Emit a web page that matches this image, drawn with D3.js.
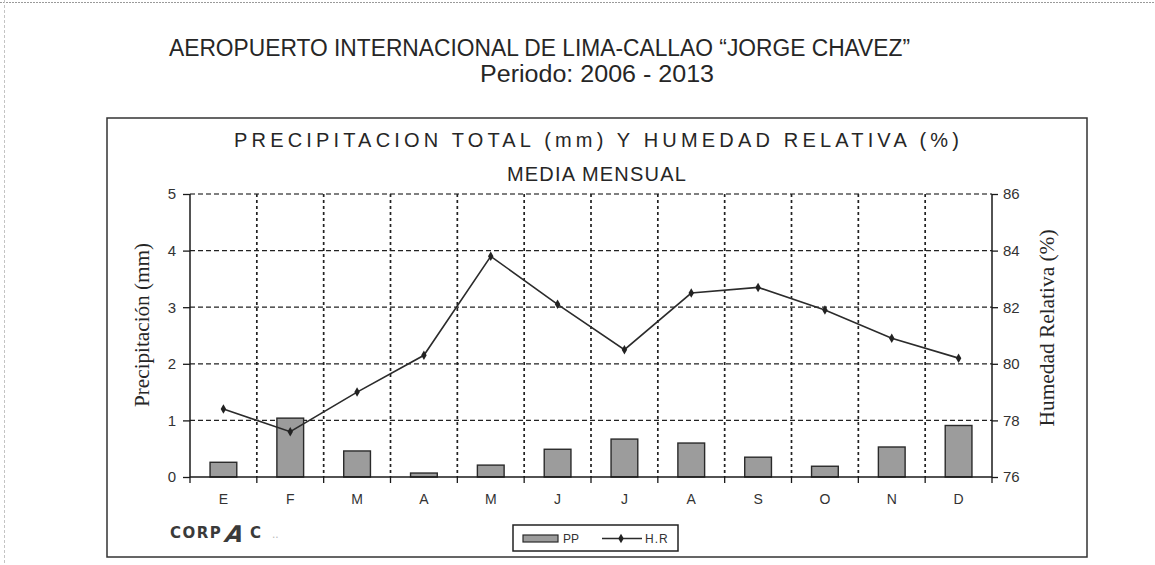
<!DOCTYPE html>
<html>
<head>
<meta charset="utf-8">
<script src="https://cdn.jsdelivr.net/npm/d3@7"></script>
<style>
  html, body { margin: 0; padding: 0; background: #fff; }
  svg { display: block; }
</style>
</head>
<body>
<svg id="chart" width="1155" height="565"></svg>
<script>
// ---- data ----
const months = ["E","F","M","A","M ","J","J ","A ","S","O","N","D"];
const monthLabels = ["E","F","M","A","M","J","J","A","S","O","N","D"];
const ppValues = [0.26, 1.04, 0.46, 0.07, 0.21, 0.49, 0.67, 0.60, 0.35, 0.19, 0.53, 0.91];
const hrValues = [78.4, 77.6, 79.0, 80.3, 83.8, 82.1, 80.5, 82.5, 82.7, 81.9, 80.9, 80.2];
const leftTicks = [0, 1, 2, 3, 4, 5];
const rightTicks = [76, 78, 80, 82, 84, 86];
const mainTitle = "AEROPUERTO INTERNACIONAL DE LIMA-CALLAO  \u201CJORGE CHAVEZ\u201D";
const subTitle = "Periodo: 2006 - 2013";
const chartTitle1 = "PRECIPITACION TOTAL (mm) Y HUMEDAD RELATIVA (%)";
const chartTitle2 = "MEDIA MENSUAL";
const leftAxisTitle = "Precipitación (mm)";
const rightAxisTitle = "Humedad Relativa (%)";
const legendLabels = ["PP", "H.R"];

// ---- layout ----
const svg = d3.select("#chart");
const plot = { left: 190, right: 992, top: 194, bottom: 477 };
const ink = "#262626";

const x = d3.scaleBand().domain(months).range([plot.left, plot.right]).paddingInner(0.6).paddingOuter(0.3);
const yL = d3.scaleLinear().domain([0, 5]).range([plot.bottom, plot.top]);
const yR = d3.scaleLinear().domain([76, 86]).range([plot.bottom, plot.top]);
const step = x.step();

// faint page edges of the scan
svg.append("line").attr("x1", 0).attr("x2", 1155).attr("y1", 2.5).attr("y2", 2.5)
  .attr("stroke", "#9a9a9a").attr("stroke-width", 1).attr("stroke-dasharray", "2,1");
svg.append("line").attr("x1", 4.5).attr("x2", 4.5).attr("y1", 0).attr("y2", 565)
  .attr("stroke", "#c4c4c4").attr("stroke-width", 1).attr("stroke-dasharray", "3,2");

// titles
svg.append("text").attr("x", 169).attr("y", 56)
  .attr("font-family", "Liberation Sans, Arial, sans-serif").attr("font-size", 23)
  .attr("fill", ink).attr("textLength", 741).attr("lengthAdjust", "spacingAndGlyphs")
  .text(mainTitle);
svg.append("text").attr("x", 480).attr("y", 82)
  .attr("font-family", "Liberation Sans, Arial, sans-serif").attr("font-size", 23)
  .attr("fill", ink).attr("textLength", 234).attr("lengthAdjust", "spacingAndGlyphs")
  .text(subTitle);

// outer chart box
svg.append("rect").attr("x", 107).attr("y", 118).attr("width", 980).attr("height", 439)
  .attr("fill", "none").attr("stroke", "#333").attr("stroke-width", 1.5);

svg.append("text").attr("x", 234).attr("y", 147)
  .attr("font-family", "Liberation Sans, Arial, sans-serif").attr("font-size", 20)
  .attr("fill", ink).attr("textLength", 725).attr("lengthAdjust", "spacing")
  .text(chartTitle1);
svg.append("text").attr("x", 597).attr("y", 181).attr("text-anchor", "middle")
  .attr("font-family", "Liberation Sans, Arial, sans-serif").attr("font-size", 20)
  .attr("fill", ink).attr("letter-spacing", 1.2)
  .text(chartTitle2);

// horizontal gridlines
svg.append("g").selectAll("line").data(leftTicks.filter(d => d > 0)).join("line")
  .attr("x1", plot.left).attr("x2", plot.right)
  .attr("y1", d => yL(d)).attr("y2", d => yL(d))
  .attr("stroke", d => d === 5 ? "#555" : "#222").attr("stroke-width", 1.3)
  .attr("stroke-dasharray", "5,3");

// vertical gridlines at category boundaries
const bounds = months.slice(1).map(m => x(m) - (step - x.bandwidth()) / 2);
svg.append("g").selectAll("line").data(bounds).join("line")
  .attr("x1", d => d).attr("x2", d => d)
  .attr("y1", plot.top).attr("y2", plot.bottom)
  .attr("stroke", "#222").attr("stroke-width", 1.7)
  .attr("stroke-dasharray", "3,3");

// bars
svg.append("g").selectAll("rect").data(ppValues).join("rect")
  .attr("x", (d, i) => x(months[i]))
  .attr("y", d => yL(d))
  .attr("width", x.bandwidth())
  .attr("height", d => yL(0) - yL(d))
  .attr("fill", "#9c9c9c").attr("stroke", "#2a2a2a").attr("stroke-width", 1.4);

// axes lines
const axisG = svg.append("g").attr("stroke", "#1a1a1a").attr("stroke-width", 1.5);
axisG.append("line").attr("x1", plot.left).attr("x2", plot.left).attr("y1", plot.top).attr("y2", plot.bottom);
axisG.append("line").attr("x1", plot.right).attr("x2", plot.right).attr("y1", plot.top).attr("y2", plot.bottom);
axisG.append("line").attr("x1", plot.left).attr("x2", plot.right).attr("y1", plot.bottom).attr("y2", plot.bottom);

// left axis
const leftAxis = svg.append("g").attr("transform", `translate(${plot.left},0)`)
  .call(d3.axisLeft(yL).tickValues(leftTicks).tickSize(7).tickPadding(7).tickFormat(d3.format("d")));
leftAxis.select(".domain").remove();
leftAxis.selectAll("line").attr("stroke", "#1a1a1a").attr("stroke-width", 1.3);
leftAxis.selectAll("text").attr("font-family", "Liberation Sans, Arial, sans-serif")
  .attr("font-size", 15).attr("fill", "#333");

// right axis
const rightAxis = svg.append("g").attr("transform", `translate(${plot.right},0)`)
  .call(d3.axisRight(yR).tickValues(rightTicks).tickSize(6).tickPadding(5).tickFormat(d3.format("d")));
rightAxis.select(".domain").remove();
rightAxis.selectAll("line").attr("stroke", "#1a1a1a").attr("stroke-width", 1.3);
rightAxis.selectAll("text").attr("font-family", "Liberation Sans, Arial, sans-serif")
  .attr("font-size", 15).attr("fill", "#333");

// bottom ticks at boundaries + labels
svg.append("g").selectAll("line").data([plot.left, ...bounds, plot.right]).join("line")
  .attr("x1", d => d).attr("x2", d => d).attr("y1", plot.bottom).attr("y2", plot.bottom + 6)
  .attr("stroke", "#1a1a1a").attr("stroke-width", 1.3);
svg.append("g").selectAll("text").data(monthLabels).join("text")
  .attr("x", (d, i) => x(months[i]) + x.bandwidth() / 2)
  .attr("y", 504).attr("text-anchor", "middle")
  .attr("font-family", "Liberation Sans Narrow, Liberation Sans, Arial, sans-serif")
  .attr("font-size", 14).attr("fill", "#333")
  .text(d => d);

// HR line
const line = d3.line().x((d, i) => x(months[i]) + x.bandwidth() / 2).y(d => yR(d));
svg.append("path").datum(hrValues).attr("d", line)
  .attr("fill", "none").attr("stroke", "#2b2b2b").attr("stroke-width", 1.6);
const diamond = d3.symbol().type(d3.symbolDiamond).size(26);
svg.append("g").selectAll("path").data(hrValues).join("path")
  .attr("transform", (d, i) => `translate(${x(months[i]) + x.bandwidth() / 2},${yR(d)})`)
  .attr("d", diamond).attr("fill", "#222");

// axis titles
svg.append("text").attr("transform", "translate(149,325) rotate(-90)")
  .attr("text-anchor", "middle")
  .attr("font-family", "Liberation Serif, Times New Roman, serif").attr("font-size", 20)
  .attr("fill", ink).attr("textLength", 164).attr("lengthAdjust", "spacingAndGlyphs")
  .text(leftAxisTitle);
svg.append("text").attr("transform", "translate(1054,328) rotate(-90)")
  .attr("text-anchor", "middle")
  .attr("font-family", "Liberation Serif, Times New Roman, serif").attr("font-size", 20)
  .attr("fill", ink).attr("textLength", 197).attr("lengthAdjust", "spacingAndGlyphs")
  .text(rightAxisTitle);

// legend
const lg = svg.append("g");
lg.append("rect").attr("x", 513).attr("y", 525).attr("width", 165).attr("height", 26)
  .attr("fill", "#fff").attr("stroke", "#222").attr("stroke-width", 1.5);
lg.append("rect").attr("x", 523).attr("y", 535).attr("width", 35).attr("height", 7)
  .attr("fill", "#9c9c9c").attr("stroke", "#2a2a2a").attr("stroke-width", 1.2);
lg.append("text").attr("x", 563).attr("y", 543)
  .attr("font-family", "Liberation Sans, Arial, sans-serif").attr("font-size", 12).attr("fill", "#333")
  .text(legendLabels[0]);
lg.append("line").attr("x1", 602).attr("x2", 642).attr("y1", 538.5).attr("y2", 538.5)
  .attr("stroke", "#2b2b2b").attr("stroke-width", 1.5);
lg.append("path").attr("transform", "translate(621,538.5)").attr("d", diamond).attr("fill", "#222");
lg.append("text").attr("x", 645).attr("y", 543).attr("letter-spacing", 1)
  .attr("font-family", "Liberation Sans, Arial, sans-serif").attr("font-size", 12).attr("fill", "#333")
  .text(legendLabels[1]);

// CORPAC mark
const logo = svg.append("g").attr("fill", "#3a3a3a");
logo.append("text").attr("x", 170).attr("y", 538)
  .attr("font-family", "DejaVu Sans, Liberation Sans, sans-serif").attr("font-weight", "bold")
  .attr("font-size", 15).attr("letter-spacing", 1.5)
  .text("CORP");
logo.append("text").attr("transform", "translate(223,542) skewX(-20)")
  .attr("font-family", "DejaVu Sans, Liberation Sans, sans-serif").attr("font-weight", "bold")
  .attr("font-size", 23)
  .text("A");
logo.append("text").attr("x", 250).attr("y", 538)
  .attr("font-family", "DejaVu Sans, Liberation Sans, sans-serif").attr("font-weight", "bold")
  .attr("font-size", 15)
  .text("C");
logo.append("text").attr("x", 272).attr("y", 538)
  .attr("font-family", "Liberation Sans, sans-serif").attr("font-size", 12).attr("fill", "#bbb")
  .text("..");
</script>
</body>
</html>
